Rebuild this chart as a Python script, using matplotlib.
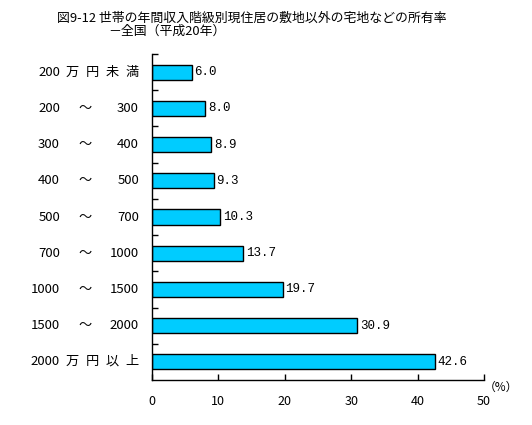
import matplotlib
matplotlib.use("Agg")
import matplotlib.pyplot as plt
import matplotlib.transforms as mtransforms

plt.rcParams['font.family'] = ['Noto Sans CJK JP', 'DejaVu Sans']

left_labels = ["200", "200", "300", "400", "500", "700", "1000", "1500", "2000"]
mid_labels = ["万円未満", "～", "～", "～", "～", "～", "～", "～", "万円以上"]
right_labels = ["", "300", "400", "500", "700", "1000", "1500", "2000", ""]
values = [6.0, 8.0, 8.9, 9.3, 10.3, 13.7, 19.7, 30.9, 42.6]
xticks = [0, 10, 20, 30, 40, 50]
title1 = "図9-12 世帯の年間収入階級別現住居の敷地以外の宅地などの所有率"
title2 = "－全国（平成20年）"

W, H = 532, 425
fig = plt.figure(figsize=(W / 100, H / 100), dpi=100)
ax = fig.add_axes([152 / W, 1 - 380 / H, (484 - 152) / W, (380 - 54) / H])

n = len(values)
ypos = list(range(n))
ax.barh(ypos, values, height=0.42, color="#00CCFF", edgecolor="black", linewidth=1.0)
ax.set_ylim(n - 0.5, -0.5)
ax.set_xlim(0, 50)

for y, v in zip(ypos, values):
    ax.text(v + 0.4, y, f"{v:.1f}", va="center", ha="left", fontsize=9,
            family=["Liberation Mono"])

ax.set_xticks(xticks)
ax.set_xticklabels([str(t) for t in xticks], fontsize=9)
ax.tick_params(axis="x", direction="in", length=4, width=1, pad=11)
ax.set_yticks([i - 0.5 for i in range(n)])
ax.set_yticklabels([])
ax.tick_params(axis="y", direction="in", length=4, width=1)

for s in ["top", "right"]:
    ax.spines[s].set_visible(False)
for s in ["left", "bottom"]:
    ax.spines[s].set_linewidth(1.0)

trans_fig = mtransforms.blended_transform_factory(fig.transFigure, ax.transData)
char_x = [72, 92, 112, 132]
for y, l, m, r in zip(ypos, left_labels, mid_labels, right_labels):
    ax.text(60 / W, y, l, transform=trans_fig, ha="right", va="center", fontsize=9.5)
    if r:
        ax.text(85 / W, y, m, transform=trans_fig, ha="center", va="center", fontsize=9.5)
        ax.text(139 / W, y, r, transform=trans_fig, ha="right", va="center", fontsize=9.5)
    else:
        for cx, ch in zip(char_x, m):
            ax.text(cx / W, y, ch, transform=trans_fig, ha="center", va="center", fontsize=9.5)

ax.text(1.0, -0.022, "（%）", transform=ax.transAxes, ha="left", va="center", fontsize=8.5)

fig.text(57 / W, 1 - 18 / H, title1, ha="left", va="center", fontsize=9.3)
fig.text(108 / W, 1 - 31 / H, title2, ha="left", va="center", fontsize=9.3)

fig.savefig("out.png", dpi=100)
